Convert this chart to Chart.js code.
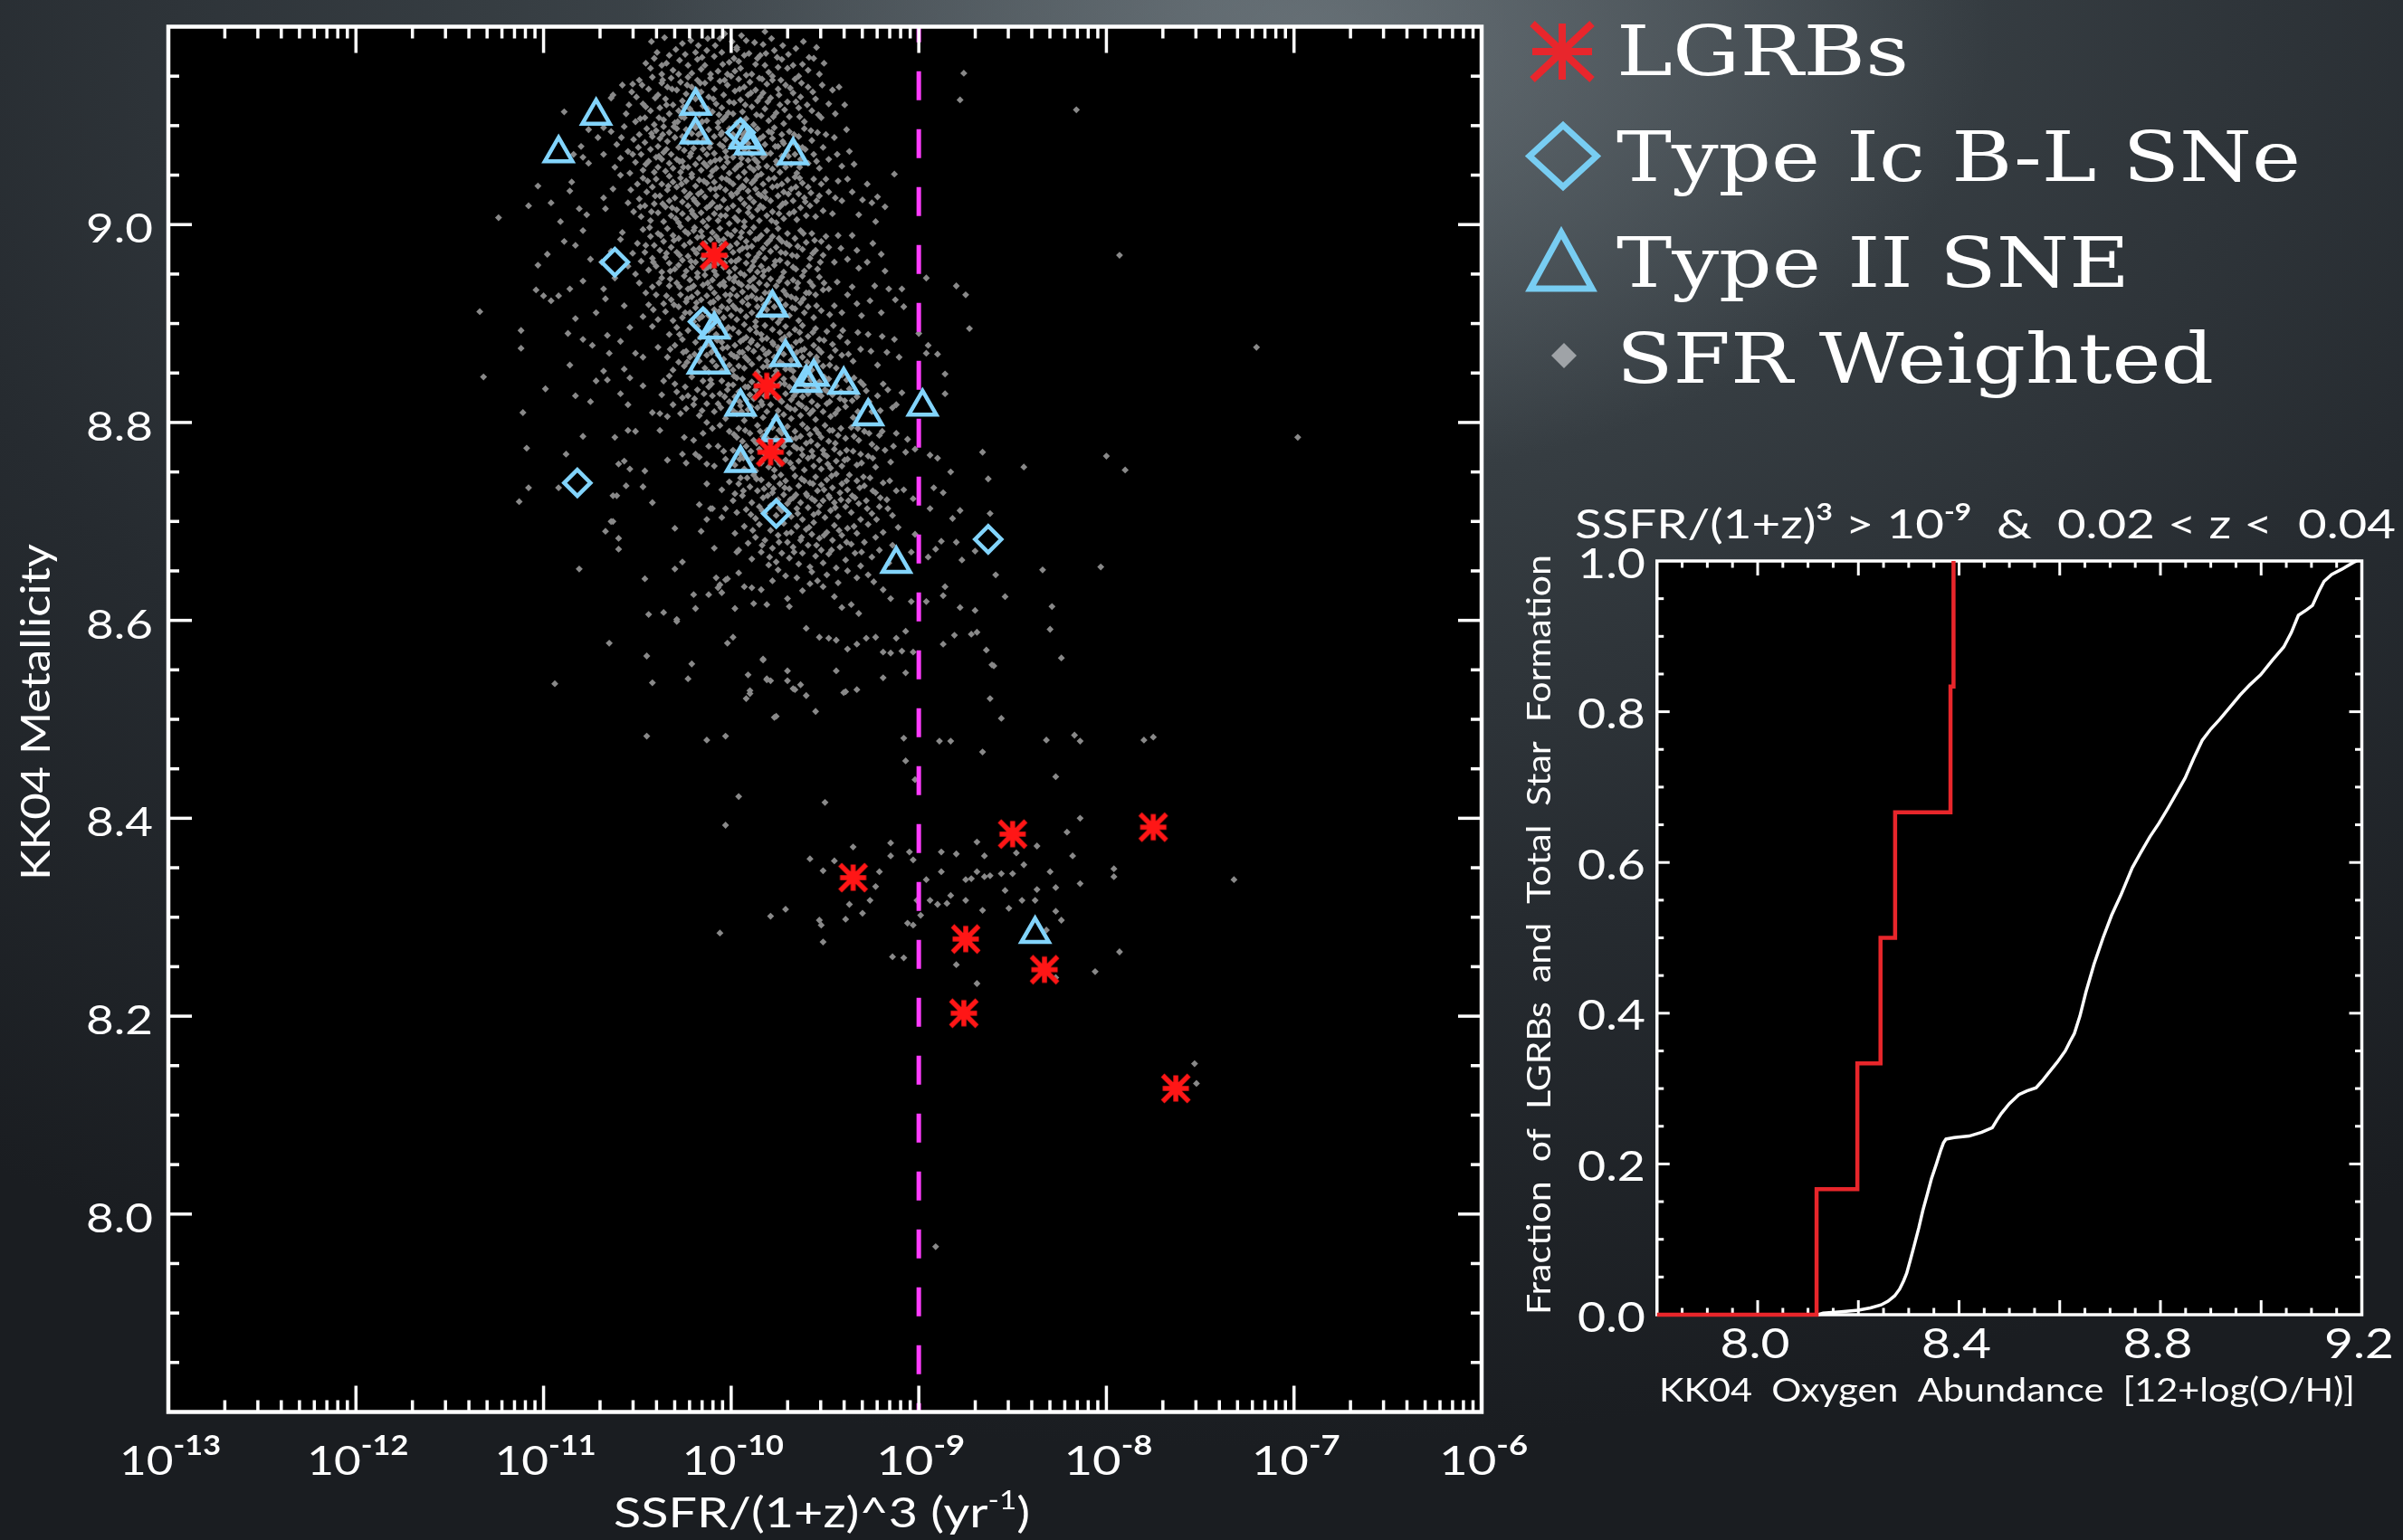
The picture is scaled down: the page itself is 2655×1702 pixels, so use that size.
<!DOCTYPE html>
<html>
<head>
<meta charset="utf-8">
<title>KK04 metallicity versus specific star formation rate</title>
<script src="https://cdn.jsdelivr.net/npm/chart.js@4.4.1/dist/chart.umd.min.js"></script>
<style>
  html, body { margin: 0; padding: 0; }
  body {
    width: 2655px; height: 1702px; overflow: hidden; position: relative;
    background:
      radial-gradient(ellipse 1000px 650px at 1450px 40px, rgba(125,135,141,0.55), rgba(125,135,141,0) 75%),
      radial-gradient(ellipse 2300px 1600px at 1350px 0px, #4c555b 0%, #363d42 35%, #262b30 65%, #1a1d21 100%);
  }
  canvas { position: absolute; }
  #main { left: 0; top: 0; }
  #inset { left: 1650px; top: 520px; }
</style>
</head>
<body>
<canvas id="main" width="2655" height="1702"></canvas>
<canvas id="inset" width="1005" height="1182"></canvas>
<script>
// ---- data: [log10 SSFR/(1+z)^3, KK04 metallicity] ----
const lgrbs = [
  [-10.09,8.969],[-9.81,8.837],[-9.79,8.770],[-9.35,8.340],[-8.50,8.384],
  [-7.75,8.391],[-8.75,8.278],[-8.33,8.247],[-8.76,8.203],[-7.63,8.127]
];
const typeIcBL = [
  [-10.62,8.962],[-10.82,8.739],[-9.76,8.708],[-8.63,8.682],[-10.15,8.902],[-9.95,9.093]
];
const typeII = [
  [-10.72,9.110],[-10.92,9.072],[-10.19,9.120],[-10.19,9.091],[-9.93,9.086],[-9.90,9.080],
  [-9.67,9.070],[-9.78,8.916],[-10.09,8.894],[-10.12,8.862],[-9.71,8.866],[-9.60,8.840],
  [-9.56,8.846],[-9.40,8.838],[-9.27,8.806],[-8.98,8.816],[-9.95,8.816],[-9.76,8.790],
  [-9.95,8.759],[-9.12,8.657],[-8.38,8.283]
];
const sfrWeighted = [
  // 9.15 - 9.20
  [-10.43,9.158],[-10.41,9.168],[-10.37,9.152],[-10.37,9.161],[-10.33,9.171],[-10.31,9.156],[-10.28,9.152],[-10.26,9.183],[-10.23,9.161],[-10.21,9.153],[-10.19,9.174],[-10.18,9.167],[-10.16,9.157],[-10.14,9.161],[-10.13,9.176],[-10.11,9.152],[-10.09,9.170],[-10.07,9.155],[-10.06,9.188],[-10.05,9.174],[-10.02,9.152],[-10.01,9.164],[-9.98,9.155],[-9.97,9.177],[-9.96,9.165],[-9.95,9.158],[-9.93,9.171],[-9.92,9.151],[-9.89,9.152],[-9.87,9.162],[-9.86,9.168],[-9.83,9.182],[-9.82,9.161],[-9.80,9.154],[-9.78,9.150],[-9.77,9.176],[-9.75,9.159],[-9.73,9.167],[-9.70,9.158],[-9.67,9.161],[-9.64,9.150],[-9.62,9.162],[-9.59,9.156],[-9.56,9.168],[-9.53,9.152],[-9.82,9.195],[-9.97,9.179],[-9.92,9.186],
  [-10.455,9.163],[-10.425,9.185],[-10.395,9.174],[-10.355,9.189],[-10.345,9.163],[-10.295,9.177],[-10.275,9.166],[-10.245,9.172],[-10.215,9.186],[-10.175,9.181],[-10.155,9.169],[-10.125,9.188],[-10.085,9.181],[-10.045,9.162],[-10.035,9.193],[-9.995,9.185],[-9.985,9.168],[-9.945,9.191],[-9.905,9.173],[-9.875,9.184],[-9.845,9.171],[-9.815,9.173],[-9.785,9.188],[-9.755,9.169],[-9.725,9.181],[-9.695,9.172],[-9.655,9.178],[-9.615,9.185],[-9.585,9.169],[-9.545,9.179],[-9.505,9.163],
  [-8.76,9.153],[-8.78,9.126],[-8.16,9.116],[-10.89,9.114],
  // 9.10 - 9.15
  [-10.64,9.128],[-10.58,9.141],[-10.56,9.112],[-10.53,9.134],[-10.51,9.104],[-10.63,9.131],[-10.68,9.098],[-10.76,9.096],[-10.84,9.071],[-10.79,9.068],
  [-10.49,9.146],[-10.47,9.122],[-10.46,9.108],[-10.44,9.137],[-10.43,9.115],[-10.42,9.149],[-10.41,9.101],
  [-10.39,9.131],[-10.38,9.118],[-10.37,9.143],[-10.36,9.106],[-10.35,9.127],[-10.34,9.139],[-10.33,9.112],[-10.32,9.148],[-10.31,9.121],[-10.30,9.103],
  [-10.29,9.136],[-10.28,9.115],[-10.27,9.144],[-10.26,9.125],[-10.25,9.108],[-10.24,9.132],[-10.23,9.149],[-10.22,9.117],[-10.21,9.139],[-10.20,9.101],
  [-10.19,9.127],[-10.18,9.146],[-10.17,9.111],[-10.16,9.134],[-10.15,9.120],[-10.14,9.143],[-10.13,9.105],[-10.12,9.129],[-10.11,9.148],[-10.10,9.114],
  [-10.09,9.137],[-10.08,9.122],[-10.07,9.103],[-10.06,9.145],[-10.05,9.118],[-10.04,9.131],[-10.03,9.109],[-10.02,9.141],[-10.01,9.124],[-10.00,9.150],
  [-9.99,9.112],[-9.98,9.135],[-9.97,9.103],[-9.96,9.147],[-9.95,9.126],[-9.94,9.114],[-9.93,9.139],[-9.92,9.107],[-9.91,9.131],[-9.90,9.144],
  [-9.89,9.119],[-9.88,9.101],[-9.87,9.136],[-9.86,9.125],[-9.85,9.148],[-9.84,9.110],[-9.83,9.133],[-9.82,9.117],[-9.81,9.142],[-9.80,9.105],
  [-9.79,9.128],[-9.78,9.146],[-9.76,9.113],[-9.75,9.137],[-9.74,9.121],[-9.72,9.102],[-9.71,9.141],[-9.70,9.124],
  [-9.69,9.109],[-9.67,9.133],[-9.66,9.147],[-9.64,9.118],[-9.63,9.129],[-9.61,9.104],
  [-9.59,9.139],[-9.57,9.115],[-9.55,9.127],[-9.52,9.108],[-9.48,9.122],[-9.46,9.136],
  [-10.545,9.121],[-10.505,9.129],[-10.475,9.141],[-10.455,9.119],[-10.405,9.128],[-10.385,9.108],[-10.345,9.121],[-10.315,9.137],[-10.285,9.104],[-10.255,9.119],[-10.235,9.141],[-10.205,9.113],[-10.185,9.136],[-10.155,9.104],[-10.125,9.117],[-10.095,9.127],[-10.065,9.111],[-10.035,9.146],[-10.015,9.113],[-9.985,9.123],[-9.955,9.137],[-9.925,9.121],[-9.895,9.133],[-9.865,9.111],[-9.835,9.147],[-9.805,9.124],[-9.775,9.109],[-9.745,9.131],[-9.715,9.116],[-9.685,9.138],[-9.655,9.124],[-9.625,9.143],[-9.595,9.121],[-9.565,9.134],[-9.535,9.111],
  [-10.525,9.142],[-10.485,9.107],[-10.365,9.146],[-10.265,9.109],[-10.165,9.143],[-10.045,9.106],[-9.945,9.105],[-9.845,9.129],[-9.735,9.146],[-9.635,9.109],[-9.515,9.141],[-9.445,9.112],[-9.425,9.139],[-9.395,9.121],
  // 9.05 - 9.10
  [-10.80,9.079],[-10.76,9.062],[-10.71,9.088],[-10.68,9.071],
  [-10.64,9.094],[-10.62,9.058],[-10.61,9.081],[-10.59,9.067],[-10.57,9.099],[-10.55,9.074],[-10.54,9.052],[-10.52,9.086],[-10.51,9.063],
  [-10.49,9.091],[-10.48,9.071],[-10.47,9.055],[-10.46,9.083],[-10.45,9.097],[-10.44,9.064],[-10.43,9.076],[-10.42,9.089],[-10.41,9.053],[-10.40,9.068],
  [-10.40,9.095],[-10.39,9.079],[-10.39,9.058],[-10.38,9.087],[-10.37,9.066],[-10.36,9.099],[-10.36,9.073],[-10.35,9.054],[-10.34,9.084],[-10.33,9.062],[-10.33,9.093],[-10.32,9.071],[-10.31,9.057],[-10.30,9.088],
  [-10.29,9.066],[-10.29,9.097],[-10.28,9.078],[-10.27,9.053],[-10.26,9.089],[-10.26,9.064],[-10.25,9.075],[-10.24,9.096],[-10.23,9.058],[-10.23,9.083],[-10.22,9.069],[-10.21,9.092],[-10.21,9.051],[-10.20,9.077],
  [-10.19,9.061],[-10.19,9.098],[-10.18,9.084],[-10.17,9.067],[-10.16,9.055],[-10.16,9.093],[-10.15,9.076],[-10.14,9.087],[-10.13,9.059],[-10.13,9.071],[-10.12,9.096],[-10.11,9.082],[-10.11,9.063],[-10.10,9.054],
  [-10.09,9.089],[-10.09,9.072],[-10.08,9.057],[-10.07,9.098],[-10.06,9.066],[-10.06,9.081],[-10.05,9.093],[-10.04,9.058],[-10.03,9.074],[-10.03,9.086],[-10.02,9.063],[-10.01,9.097],[-10.01,9.052],[-10.00,9.079],
  [-9.99,9.068],[-9.99,9.091],[-9.98,9.056],[-9.97,9.083],[-9.96,9.072],[-9.96,9.099],[-9.95,9.061],[-9.94,9.087],[-9.93,9.053],[-9.93,9.076],[-9.92,9.094],[-9.91,9.065],[-9.91,9.082],[-9.90,9.058],
  [-9.89,9.092],[-9.89,9.071],[-9.88,9.055],[-9.87,9.084],[-9.86,9.097],[-9.86,9.063],[-9.85,9.076],[-9.84,9.051],[-9.83,9.089],[-9.83,9.068],[-9.82,9.081],[-9.81,9.059],[-9.80,9.094],
  [-9.79,9.072],[-9.78,9.056],[-9.78,9.087],[-9.77,9.098],[-9.76,9.064],[-9.75,9.079],[-9.74,9.053],[-9.73,9.091],[-9.73,9.069],[-9.72,9.082],[-9.71,9.058],[-9.70,9.075],
  [-9.69,9.094],[-9.68,9.061],[-9.67,9.083],[-9.66,9.071],[-9.65,9.052],[-9.64,9.089],[-9.63,9.066],[-9.62,9.078],[-9.61,9.097],
  [-9.59,9.062],[-9.57,9.085],[-9.56,9.071],[-9.54,9.093],[-9.53,9.057],[-9.51,9.078],
  [-9.48,9.066],[-9.45,9.088],[-9.41,9.059],[-9.37,9.074],[-9.13,9.051],
  [-10.495,9.078],[-10.455,9.061],[-10.425,9.092],[-10.385,9.069],[-10.345,9.076],[-10.305,9.099],[-10.275,9.064],[-10.245,9.085],[-10.215,9.072],[-10.175,9.091],[-10.145,9.062],[-10.115,9.078],[-10.085,9.065],[-10.055,9.091],[-10.025,9.068],[-9.995,9.081],[-9.965,9.059],[-9.935,9.091],[-9.905,9.073],[-9.875,9.066],[-9.845,9.087],[-9.815,9.071],[-9.785,9.093],[-9.755,9.061],[-9.725,9.084],[-9.695,9.069],[-9.665,9.091],[-9.635,9.058],[-9.605,9.076],[-9.575,9.095],
  [-10.585,9.088],[-10.525,9.071],[-10.365,9.091],[-10.255,9.058],[-10.155,9.083],[-10.045,9.079],[-9.945,9.067],[-9.855,9.058],[-9.765,9.079],[-9.645,9.079],[-9.545,9.064],[-9.495,9.091],[-9.435,9.071],[-9.385,9.096],[-9.345,9.061],
  // 9.00 - 9.05
  [-11.24,9.007],[-11.08,9.019],[-11.03,9.039],[-10.96,9.022],[-10.85,9.043],[-10.86,9.034],[-10.81,9.016],[-10.77,9.010],[-10.68,9.027],[-10.63,9.036],[-10.59,9.050],[-10.67,9.016],[-10.55,9.022],[-10.52,9.013],
  [-10.50,9.041],[-10.49,9.026],[-10.48,9.008],[-10.47,9.047],[-10.46,9.019],[-10.45,9.033],[-10.43,9.004],[-10.42,9.038],[-10.41,9.021],
  [-10.40,9.046],[-10.39,9.012],[-10.38,9.029],[-10.37,9.041],[-10.36,9.003],[-10.35,9.018],[-10.34,9.035],[-10.33,9.049],[-10.33,9.024],[-10.32,9.009],[-10.31,9.043],[-10.30,9.027],
  [-10.29,9.015],[-10.29,9.038],[-10.28,9.002],[-10.27,9.047],[-10.26,9.023],[-10.26,9.011],[-10.25,9.034],[-10.24,9.044],[-10.23,9.019],[-10.23,9.006],[-10.22,9.031],[-10.21,9.048],[-10.21,9.014],[-10.20,9.026],
  [-10.19,9.039],[-10.19,9.008],[-10.18,9.021],[-10.17,9.045],[-10.16,9.012],[-10.16,9.033],[-10.15,9.003],[-10.14,9.028],[-10.13,9.042],[-10.13,9.017],[-10.12,9.006],[-10.11,9.036],[-10.11,9.049],[-10.10,9.022],
  [-10.09,9.011],[-10.09,9.043],[-10.08,9.029],[-10.07,9.004],[-10.06,9.038],[-10.06,9.018],[-10.05,9.047],[-10.04,9.025],[-10.03,9.009],[-10.03,9.035],[-10.02,9.016],[-10.01,9.044],[-10.01,9.001],[-10.00,9.031],
  [-9.99,9.019],[-9.99,9.041],[-9.98,9.007],[-9.97,9.032],[-9.96,9.048],[-9.96,9.014],[-9.95,9.026],[-9.94,9.039],[-9.93,9.003],[-9.93,9.021],[-9.92,9.045],[-9.91,9.012],[-9.91,9.034],[-9.90,9.027],
  [-9.89,9.008],[-9.89,9.042],[-9.88,9.023],[-9.87,9.036],[-9.86,9.015],[-9.86,9.049],[-9.85,9.004],[-9.84,9.029],[-9.83,9.041],[-9.83,9.017],[-9.82,9.033],[-9.81,9.009],[-9.80,9.046],
  [-9.79,9.024],[-9.78,9.013],[-9.78,9.038],[-9.77,9.047],[-9.76,9.002],[-9.75,9.029],[-9.74,9.018],[-9.73,9.041],[-9.72,9.006],[-9.72,9.033],[-9.71,9.022],[-9.70,9.045],
  [-9.69,9.011],[-9.68,9.036],[-9.67,9.024],[-9.66,9.048],[-9.65,9.005],[-9.64,9.031],[-9.63,9.017],[-9.62,9.042],[-9.61,9.027],[-9.60,9.009],
  [-9.59,9.038],[-9.58,9.019],[-9.56,9.046],[-9.55,9.008],[-9.53,9.029],[-9.52,9.041],[-9.51,9.014],
  [-9.48,9.033],[-9.46,9.011],[-9.43,9.044],[-9.41,9.024],
  [-9.38,9.046],[-9.32,9.010],[-9.30,9.025],[-9.25,9.022],[-9.22,9.028],[-9.18,9.018],[-9.23,9.003],
  [-10.485,9.018],[-10.445,9.044],[-10.405,9.029],[-10.365,9.021],[-10.335,9.039],[-10.295,9.006],[-10.265,9.041],[-10.235,9.028],[-10.205,9.011],[-10.175,9.031],[-10.145,9.044],[-10.115,9.019],[-10.085,9.036],[-10.055,9.009],[-10.025,9.046],[-9.995,9.029],[-9.965,9.004],[-9.935,9.038],[-9.905,9.017],[-9.875,9.045],[-9.845,9.019],[-9.815,9.027],[-9.785,9.004],[-9.755,9.039],[-9.725,9.021],[-9.695,9.031],[-9.665,9.013],[-9.635,9.047],[-9.605,9.023],[-9.575,9.032],
  [-10.535,9.035],[-10.425,9.013],[-10.315,9.017],[-10.195,9.024],[-10.075,9.017],[-9.955,9.036],[-9.855,9.031],[-9.745,9.011],[-9.655,9.038],[-9.545,9.024],[-9.495,9.046],[-9.445,9.027],[-9.355,9.033],[-9.275,9.041],
  // 8.95 - 9.00
  [-10.98,8.970],[-11.03,8.959],[-10.91,9.003],[-10.89,8.983],[-10.83,8.979],[-10.79,8.994],[-10.75,8.965],[-10.69,8.962],[-10.59,8.985],[-10.58,8.992],[-10.64,8.973],[-10.55,8.958],
  [-10.50,8.981],[-10.48,8.963],[-10.47,8.995],[-10.46,8.972],[-10.44,8.954],[-10.43,8.988],[-10.42,8.966],[-10.41,8.979],
  [-10.40,8.958],[-10.39,8.991],[-10.38,8.974],[-10.37,8.952],[-10.36,8.983],[-10.35,8.967],[-10.34,8.996],[-10.33,8.961],[-10.32,8.977],[-10.31,8.989],[-10.30,8.955],
  [-10.29,8.972],[-10.28,8.986],[-10.28,8.959],[-10.27,8.998],[-10.26,8.964],[-10.25,8.979],[-10.24,8.953],[-10.23,8.991],[-10.23,8.968],[-10.22,8.982],[-10.21,8.957],[-10.20,8.975],[-10.20,8.994],
  [-10.19,8.962],[-10.18,8.987],[-10.18,8.951],[-10.17,8.976],[-10.16,8.993],[-10.15,8.966],[-10.14,8.981],[-10.14,8.955],[-10.13,8.998],[-10.12,8.971],[-10.11,8.958],[-10.11,8.985],[-10.10,8.964],[-10.10,8.992],
  [-10.09,8.953],[-10.08,8.988],[-10.07,8.974],[-10.07,8.961],[-10.06,8.996],[-10.05,8.979],[-10.04,8.957],[-10.04,8.985],[-10.03,8.968],[-10.02,8.991],[-10.01,8.952],[-10.01,8.977],[-10.00,8.963],[-10.00,8.989],
  [-9.99,8.972],[-9.98,8.956],[-9.98,8.994],[-9.97,8.981],[-9.96,8.965],[-9.95,8.987],[-9.95,8.951],[-9.94,8.976],[-9.93,8.998],[-9.92,8.961],[-9.92,8.983],[-9.91,8.969],[-9.90,8.954],[-9.90,8.992],
  [-9.89,8.978],[-9.88,8.963],[-9.88,8.997],[-9.87,8.985],[-9.86,8.952],[-9.85,8.971],[-9.84,8.989],[-9.84,8.958],[-9.83,8.976],[-9.82,8.966],[-9.81,8.994],[-9.81,8.981],[-9.80,8.955],
  [-9.79,8.973],[-9.78,8.988],[-9.77,8.959],[-9.76,8.977],[-9.75,8.996],[-9.74,8.964],[-9.73,8.983],[-9.72,8.952],[-9.71,8.971],[-9.70,8.991],[-9.70,8.961],
  [-9.69,8.979],[-9.67,8.957],[-9.66,8.986],[-9.65,8.968],[-9.63,8.994],[-9.62,8.975],[-9.61,8.953],[-9.60,8.982],
  [-9.58,8.966],[-9.57,8.991],[-9.55,8.974],[-9.54,8.955],[-9.52,8.983],[-9.51,8.969],
  [-9.48,8.977],[-9.43,8.989],[-9.38,8.965],[-9.33,8.974],[-9.32,8.956],[-9.20,8.970],[-9.18,8.953],[-9.45,8.962],
  [-8.96,8.946],[-7.93,8.969],[-8.80,8.938],[-8.75,8.929],
  [-10.455,8.979],[-10.415,8.962],[-10.375,8.989],[-10.345,8.971],[-10.305,8.984],[-10.275,8.969],[-10.245,8.993],[-10.215,8.963],[-10.185,8.971],[-10.155,8.988],[-10.125,8.957],[-10.065,8.984],[-10.035,8.961],[-10.005,8.978],[-9.975,8.963],[-9.945,8.992],[-9.915,8.977],[-9.885,8.958],[-9.855,8.986],[-9.825,8.953],[-9.795,8.984],[-9.765,8.963],[-9.735,8.972],[-9.705,8.981],[-9.675,8.969],[-9.645,8.978],[-9.615,8.991],[-9.585,8.958],[-9.555,8.984],[-9.525,8.962],
  [-10.525,8.971],[-10.435,8.997],[-10.325,8.953],[-10.195,8.997],[-10.085,8.967],[-9.955,8.974],[-9.865,8.967],[-9.745,8.986],[-9.655,8.955],[-9.565,8.971],[-9.495,8.988],[-9.415,8.976],[-9.355,8.989],[-9.275,8.962],[-9.245,8.981],
  // 8.90 - 8.95
  [-11.04,8.934],[-11.00,8.928],[-10.96,8.923],[-10.92,8.928],[-10.86,8.935],[-10.79,8.943],[-10.68,8.935],[-10.67,8.925],[-10.72,8.911],[-10.62,8.946],[-10.57,8.918],[-10.51,8.950],[-10.49,8.941],[-10.47,8.907],
  [-10.44,8.919],[-10.42,8.937],[-10.40,8.929],[-10.39,8.904],[-10.37,8.946],[-10.36,8.920],[-10.35,8.912],[-10.33,8.938],[-10.32,8.924],[-10.31,8.903],
  [-10.29,8.941],[-10.28,8.917],[-10.27,8.929],[-10.26,8.906],[-10.25,8.948],[-10.24,8.922],[-10.23,8.935],[-10.22,8.911],[-10.22,8.944],[-10.21,8.927],[-10.20,8.902],[-10.20,8.938],
  [-10.19,8.916],[-10.18,8.931],[-10.18,8.947],[-10.17,8.905],[-10.16,8.924],[-10.15,8.939],[-10.14,8.913],[-10.14,8.949],[-10.13,8.928],[-10.12,8.908],[-10.11,8.936],[-10.11,8.921],[-10.10,8.944],
  [-10.09,8.914],[-10.09,8.931],[-10.08,8.949],[-10.07,8.903],[-10.07,8.926],[-10.06,8.939],[-10.05,8.917],[-10.04,8.942],[-10.04,8.906],[-10.03,8.929],[-10.02,8.915],[-10.01,8.946],[-10.01,8.923],[-10.00,8.908],
  [-9.99,8.935],[-9.99,8.918],[-9.98,8.947],[-9.97,8.904],[-9.97,8.928],[-9.96,8.941],[-9.95,8.913],[-9.94,8.932],[-9.94,8.922],[-9.93,8.949],[-9.92,8.907],[-9.91,8.937],[-9.91,8.919],[-9.90,8.943],
  [-9.89,8.911],[-9.89,8.928],[-9.88,8.946],[-9.87,8.902],[-9.87,8.934],[-9.86,8.917],[-9.85,8.941],[-9.84,8.925],[-9.84,8.909],[-9.83,8.948],[-9.82,8.931],[-9.81,8.914],[-9.81,8.939],[-9.80,8.922],
  [-9.79,8.945],[-9.78,8.906],[-9.78,8.929],[-9.77,8.917],[-9.76,8.938],[-9.75,8.901],[-9.74,8.924],[-9.73,8.947],[-9.72,8.912],[-9.72,8.933],[-9.71,8.919],[-9.70,8.941],
  [-9.69,8.908],[-9.68,8.927],[-9.67,8.944],[-9.66,8.915],[-9.65,8.936],[-9.64,8.903],[-9.63,8.921],[-9.62,8.948],[-9.61,8.911],[-9.60,8.931],
  [-9.59,8.917],[-9.58,8.942],[-9.56,8.906],[-9.55,8.929],[-9.53,8.947],[-9.52,8.913],[-9.51,8.934],
  [-9.48,8.935],[-9.45,8.918],[-9.41,8.911],[-9.38,8.929],[-9.33,8.920],[-9.26,8.923],[-9.20,8.911],[-9.16,8.935],[-9.09,8.935],[-9.08,8.917],
  [-10.415,8.914],[-10.385,8.941],[-10.345,8.928],[-10.305,8.919],[-10.275,8.937],[-10.245,8.911],[-10.215,8.936],[-10.185,8.921],[-10.155,8.907],[-10.125,8.941],[-10.095,8.922],[-10.065,8.912],[-10.035,8.938],[-10.005,8.929],[-9.975,8.915],[-9.945,8.939],[-9.915,8.926],[-9.885,8.937],[-9.855,8.908],[-9.825,8.919],[-9.795,8.931],[-9.765,8.926],[-9.735,8.905],[-9.705,8.929],[-9.675,8.916],[-9.645,8.941],[-9.615,8.925],[-9.585,8.931],[-9.545,8.918],[-9.505,8.941],
  [-10.455,8.931],[-10.325,8.945],[-10.235,8.925],[-10.105,8.903],[-9.985,8.943],[-9.865,8.925],[-9.745,8.943],[-9.655,8.925],[-9.565,8.938],[-9.475,8.909],[-9.435,8.942],[-9.355,8.937],[-9.305,8.908],[-9.235,8.938],[-9.125,8.924],
  // 8.85 - 8.90
  [-11.34,8.912],[-11.12,8.893],[-11.12,8.875],[-10.87,8.890],[-10.83,8.905],[-10.79,8.884],[-10.74,8.878],[-10.66,8.888],[-10.65,8.870],[-10.59,8.882],[-10.54,8.896],[-10.51,8.870],[-10.47,8.866],[-10.42,8.897],[-10.39,8.876],[-10.68,8.852],[-10.57,8.854],[-10.86,8.858],[-11.32,8.846],
  [-10.34,8.866],[-10.33,8.889],[-10.31,8.853],[-10.30,8.878],[-10.29,8.896],[-10.28,8.861],[-10.26,8.884],[-10.25,8.857],[-10.24,8.872],[-10.23,8.893],[-10.22,8.866],[-10.21,8.851],
  [-10.19,8.881],[-10.18,8.897],[-10.17,8.862],[-10.16,8.874],[-10.15,8.889],[-10.14,8.855],[-10.13,8.868],[-10.12,8.893],[-10.12,8.851],[-10.11,8.879],[-10.10,8.862],[-10.10,8.896],
  [-10.09,8.874],[-10.08,8.857],[-10.08,8.889],[-10.07,8.868],[-10.06,8.898],[-10.05,8.852],[-10.05,8.881],[-10.04,8.864],[-10.03,8.893],[-10.02,8.876],[-10.01,8.858],[-10.01,8.887],[-10.00,8.869],
  [-9.99,8.895],[-9.99,8.853],[-9.98,8.878],[-9.97,8.866],[-9.96,8.891],[-9.96,8.857],[-9.95,8.882],[-9.94,8.871],[-9.93,8.899],[-9.93,8.855],[-9.92,8.886],[-9.91,8.863],[-9.91,8.875],[-9.90,8.894],
  [-9.89,8.859],[-9.89,8.883],[-9.88,8.872],[-9.87,8.897],[-9.86,8.851],[-9.86,8.878],[-9.85,8.865],[-9.84,8.889],[-9.83,8.856],[-9.83,8.874],[-9.82,8.898],[-9.81,8.862],[-9.81,8.885],[-9.80,8.871],
  [-9.79,8.857],[-9.78,8.881],[-9.78,8.894],[-9.77,8.866],[-9.76,8.852],[-9.75,8.876],[-9.74,8.891],[-9.74,8.861],[-9.73,8.884],[-9.72,8.869],[-9.71,8.897],[-9.71,8.854],[-9.70,8.878],
  [-9.69,8.889],[-9.68,8.863],[-9.68,8.876],[-9.67,8.852],[-9.66,8.894],[-9.65,8.871],[-9.64,8.858],[-9.63,8.883],[-9.62,8.866],[-9.62,8.898],[-9.61,8.874],[-9.60,8.856],
  [-9.59,8.887],[-9.58,8.869],[-9.57,8.853],[-9.56,8.878],[-9.55,8.895],[-9.54,8.862],[-9.53,8.884],[-9.52,8.871],[-9.51,8.857],
  [-9.49,8.892],[-9.47,8.866],[-9.46,8.879],[-9.44,8.855],[-9.42,8.887],[-9.41,8.868],
  [-9.38,8.881],[-9.35,8.862],[-9.31,8.874],[-9.27,8.889],[-9.22,8.858],[-9.17,8.871],[-9.13,8.884],
  [-9.00,8.890],[-8.96,8.870],[-8.95,8.878],[-8.90,8.869],[-8.86,8.849],[-8.73,8.895],[-7.20,8.876],
  [-10.325,8.874],[-10.275,8.889],[-10.235,8.861],[-10.195,8.869],[-10.165,8.886],[-10.135,8.878],[-10.105,8.871],[-10.075,8.883],[-10.045,8.875],[-10.015,8.896],[-9.985,8.867],[-9.955,8.871],[-9.925,8.866],[-9.895,8.881],[-9.865,8.891],[-9.835,8.884],[-9.805,8.857],[-9.775,8.879],[-9.745,8.873],[-9.715,8.886],[-9.685,8.854],[-9.655,8.881],[-9.625,8.873],[-9.595,8.861],[-9.565,8.891],[-9.535,8.874],[-9.505,8.883],[-9.475,8.858],[-9.445,8.873],[-9.405,8.893],
  [-10.255,8.871],[-10.145,8.891],[-10.025,8.852],[-9.935,8.884],[-9.815,8.869],[-9.725,8.859],[-9.635,8.891],[-9.545,8.866],[-9.455,8.898],[-9.375,8.869],[-9.325,8.891],[-9.255,8.872],[-9.195,8.887],[-9.105,8.866],
  // 8.80 - 8.85
  [-10.99,8.834],[-10.83,8.827],[-10.75,8.821],[-10.72,8.842],[-10.66,8.843],[-10.59,8.829],[-10.55,8.818],[-10.54,8.845],[-10.47,8.837],[-10.42,8.810],[-10.38,8.809],[-10.37,8.828],[-10.36,8.842],[-10.34,8.806],[-10.31,8.818],[-10.30,8.839],[-10.27,8.809],[-10.26,8.825],[-10.23,8.827],[-10.20,8.818],[-10.18,8.833],[-10.15,8.842],[-10.13,8.819],[-10.10,8.827],[-10.07,8.819],[-10.05,8.842],[-10.02,8.833],[-9.97,8.845],[-11.11,8.810],
  [-10.33,8.847],[-10.29,8.831],[-10.24,8.814],[-10.21,8.846],[-10.17,8.807],[-10.12,8.836],[-10.09,8.811],[-10.06,8.829],[-10.03,8.804],[-10.01,8.821],[-9.99,8.812],[-10.11,8.843],
  [-9.99,8.838],[-9.98,8.826],[-9.97,8.809],[-9.96,8.831],[-9.95,8.817],[-9.94,8.844],[-9.93,8.802],[-9.92,8.823],[-9.91,8.836],[-9.91,8.813],[-9.90,8.828],
  [-9.89,8.841],[-9.88,8.807],[-9.88,8.824],[-9.87,8.833],[-9.86,8.815],[-9.85,8.846],[-9.84,8.821],[-9.83,8.805],[-9.83,8.837],[-9.82,8.827],[-9.81,8.811],[-9.80,8.843],
  [-9.79,8.818],[-9.78,8.834],[-9.77,8.803],[-9.77,8.847],[-9.76,8.826],[-9.75,8.812],[-9.74,8.839],[-9.73,8.821],[-9.72,8.808],[-9.72,8.844],[-9.71,8.829],[-9.70,8.816],
  [-9.69,8.836],[-9.68,8.804],[-9.68,8.823],[-9.67,8.845],[-9.66,8.813],[-9.65,8.831],[-9.64,8.819],[-9.63,8.842],[-9.63,8.807],[-9.62,8.826],[-9.61,8.838],[-9.60,8.814],
  [-9.59,8.829],[-9.58,8.846],[-9.58,8.809],[-9.57,8.821],[-9.56,8.835],[-9.55,8.803],[-9.54,8.817],[-9.53,8.841],[-9.52,8.827],[-9.51,8.811],[-9.50,8.833],
  [-9.49,8.819],[-9.48,8.844],[-9.47,8.806],[-9.46,8.828],[-9.44,8.837],[-9.43,8.813],[-9.42,8.824],[-9.41,8.848],
  [-9.39,8.816],[-9.37,8.834],[-9.35,8.805],[-9.33,8.826],[-9.31,8.841],
  [-9.28,8.832],[-9.25,8.811],[-9.22,8.827],[-9.19,8.839],[-9.14,8.815],[-9.12,8.818],[-9.09,8.830],[-8.86,8.829],
  [-10.245,8.836],[-10.195,8.824],[-10.155,8.812],[-10.105,8.839],[-10.055,8.815],[-10.015,8.838],[-9.985,8.847],[-9.955,8.821],[-9.925,8.836],[-9.895,8.816],[-9.865,8.827],[-9.835,8.818],[-9.805,8.829],[-9.775,8.838],[-9.745,8.824],[-9.715,8.839],[-9.685,8.814],[-9.655,8.842],[-9.625,8.817],[-9.595,8.836],[-9.565,8.812],[-9.535,8.829],[-9.505,8.846],[-9.475,8.821],[-9.445,8.809],[-9.415,8.831],[-9.385,8.843],[-9.355,8.822],[-9.325,8.811],[-9.295,8.838],
  [-10.145,8.829],[-10.035,8.826],[-9.945,8.811],[-9.855,8.838],[-9.755,8.806],[-9.665,8.827],[-9.575,8.843],[-9.485,8.831],[-9.395,8.822],[-9.345,8.845],[-9.265,8.821],[-9.205,8.812],[-9.165,8.833],
  // 8.75 - 8.80
  [-11.09,8.774],[-10.88,8.768],[-10.79,8.786],[-10.62,8.785],[-10.55,8.792],[-10.51,8.791],[-10.38,8.792],[-10.60,8.758],[-10.57,8.761],[-10.54,8.753],[-10.46,8.751],[-10.34,8.762],[-10.26,8.768],[-10.24,8.759],[-10.25,8.785],[-10.20,8.782],[-10.17,8.765],[-10.13,8.758],[-10.12,8.776],[-10.07,8.776],[-10.04,8.771],[-10.06,8.797],[-10.01,8.791],[-9.97,8.785],[-10.13,8.800],
  [-10.19,8.768],[-10.15,8.789],[-10.09,8.756],[-10.03,8.763],[-10.10,8.794],
  [-9.99,8.772],[-9.98,8.757],[-9.96,8.794],[-9.95,8.768],[-9.94,8.781],[-9.93,8.753],[-9.92,8.776],[-9.90,8.789],
  [-9.89,8.764],[-9.88,8.782],[-9.87,8.751],[-9.86,8.797],[-9.85,8.773],[-9.84,8.759],[-9.83,8.786],[-9.82,8.768],[-9.81,8.792],[-9.80,8.755],
  [-9.79,8.779],[-9.78,8.766],[-9.78,8.795],[-9.77,8.752],[-9.76,8.784],[-9.75,8.771],[-9.74,8.758],[-9.73,8.789],[-9.72,8.776],[-9.71,8.762],[-9.70,8.796],
  [-9.69,8.769],[-9.68,8.783],[-9.67,8.754],[-9.66,8.791],[-9.65,8.774],[-9.64,8.761],[-9.63,8.786],[-9.62,8.767],[-9.62,8.798],[-9.61,8.752],[-9.60,8.779],
  [-9.59,8.764],[-9.58,8.788],[-9.57,8.771],[-9.56,8.756],[-9.55,8.793],[-9.54,8.777],[-9.53,8.762],[-9.52,8.785],[-9.52,8.753],[-9.51,8.772],[-9.50,8.797],
  [-9.49,8.766],[-9.48,8.781],[-9.47,8.754],[-9.46,8.792],[-9.45,8.773],[-9.44,8.761],[-9.43,8.787],[-9.42,8.769],[-9.41,8.756],
  [-9.39,8.784],[-9.38,8.763],[-9.36,8.795],[-9.35,8.771],[-9.33,8.757],[-9.32,8.782],[-9.31,8.768],
  [-9.29,8.791],[-9.27,8.766],[-9.25,8.778],[-9.23,8.755],[-9.21,8.787],
  [-9.18,8.772],[-9.15,8.760],[-9.12,8.789],
  [-9.06,8.783],[-9.07,8.770],[-9.02,8.773],[-8.94,8.767],[-8.90,8.764],[-8.83,8.750],[-8.66,8.770],[-8.00,8.766],[-7.90,8.752],[-8.44,8.755],[-6.98,8.785],
  [-9.985,8.788],[-9.955,8.763],[-9.925,8.792],[-9.895,8.771],[-9.865,8.779],[-9.835,8.762],[-9.805,8.783],[-9.775,8.769],[-9.745,8.792],[-9.715,8.781],[-9.685,8.759],[-9.655,8.784],[-9.625,8.773],[-9.595,8.794],[-9.565,8.766],[-9.535,8.789],[-9.505,8.768],[-9.475,8.792],[-9.445,8.779],[-9.415,8.794],[-9.385,8.772],[-9.345,8.786],[-9.305,8.759],[-9.265,8.789],[-9.225,8.774],
  [-9.935,8.764],[-9.845,8.791],[-9.755,8.762],[-9.665,8.776],[-9.575,8.781],[-9.485,8.758],[-9.395,8.762],[-9.325,8.794],[-9.245,8.764],[-9.195,8.791],[-9.135,8.776],
  // 8.70 - 8.75
  [-11.13,8.720],[-11.08,8.734],[-10.92,8.734],[-10.63,8.726],[-10.61,8.726],[-10.56,8.736],[-10.47,8.735],[-10.42,8.719],[-10.17,8.717],[-10.13,8.738],[-10.11,8.713],[-10.10,8.713],[-10.05,8.704],[-10.03,8.713],[-10.05,8.732],[-10.01,8.740],[-9.98,8.728],[-9.96,8.738],[-10.63,8.700],[-10.13,8.702],
  [-9.99,8.721],[-9.97,8.709],[-9.95,8.744],[-9.94,8.726],[-9.92,8.712],[-9.90,8.735],
  [-9.89,8.719],[-9.88,8.747],[-9.87,8.703],[-9.86,8.731],[-9.85,8.715],[-9.84,8.742],[-9.83,8.724],[-9.82,8.708],[-9.80,8.737],
  [-9.79,8.716],[-9.78,8.729],[-9.77,8.745],[-9.76,8.706],[-9.75,8.722],[-9.74,8.738],[-9.73,8.711],[-9.72,8.727],[-9.71,8.741],[-9.70,8.718],
  [-9.69,8.733],[-9.68,8.705],[-9.67,8.724],[-9.66,8.746],[-9.65,8.713],[-9.64,8.736],[-9.63,8.719],[-9.62,8.702],[-9.61,8.741],[-9.60,8.728],
  [-9.59,8.714],[-9.58,8.739],[-9.57,8.723],[-9.56,8.707],[-9.55,8.745],[-9.54,8.731],[-9.53,8.716],[-9.52,8.737],[-9.51,8.721],[-9.50,8.704],
  [-9.49,8.742],[-9.48,8.726],[-9.47,8.711],[-9.46,8.734],[-9.45,8.719],[-9.44,8.748],[-9.43,8.705],[-9.42,8.729],[-9.41,8.738],
  [-9.39,8.715],[-9.38,8.732],[-9.37,8.747],[-9.36,8.709],[-9.34,8.724],[-9.33,8.741],[-9.32,8.718],[-9.31,8.702],
  [-9.29,8.736],[-9.28,8.721],[-9.26,8.744],[-9.25,8.708],[-9.23,8.729],[-9.21,8.715],
  [-9.19,8.739],[-9.17,8.722],[-9.14,8.706],[-9.12,8.731],
  [-9.08,8.732],[-9.03,8.723],[-8.92,8.734],[-8.94,8.713],[-8.82,8.703],[-8.78,8.711],[-8.63,8.743],[-8.62,8.708],[-8.87,8.729],
  [-9.935,8.731],[-9.895,8.707],[-9.865,8.743],[-9.835,8.711],[-9.805,8.726],[-9.775,8.733],[-9.745,8.714],[-9.715,8.734],[-9.685,8.722],[-9.655,8.727],[-9.625,8.743],[-9.595,8.726],[-9.565,8.738],[-9.535,8.709],[-9.505,8.732],[-9.475,8.724],[-9.445,8.714],[-9.415,8.722],[-9.385,8.741],[-9.355,8.726],[-9.315,8.734],[-9.275,8.713],[-9.245,8.731],[-9.205,8.724],[-9.165,8.713],
  [-9.915,8.744],[-9.825,8.733],[-9.735,8.747],[-9.645,8.708],[-9.555,8.721],[-9.465,8.746],[-9.375,8.721],[-9.295,8.745],[-9.225,8.702],[-9.155,8.741],
  // 8.65 - 8.70
  [-10.67,8.690],[-10.64,8.700],[-10.60,8.683],[-10.60,8.672],[-10.30,8.693],[-10.16,8.690],[-10.09,8.673],[-9.97,8.669],
  [-9.98,8.688],[-9.96,8.671],[-9.93,8.695],[-9.91,8.678],
  [-9.89,8.662],[-9.87,8.684],[-9.85,8.697],[-9.84,8.669],[-9.82,8.681],[-9.80,8.656],
  [-9.79,8.691],[-9.78,8.673],[-9.76,8.659],[-9.75,8.686],[-9.73,8.668],[-9.72,8.698],[-9.70,8.679],
  [-9.69,8.663],[-9.68,8.689],[-9.67,8.674],[-9.65,8.695],[-9.64,8.657],[-9.63,8.681],[-9.62,8.668],[-9.60,8.692],
  [-9.59,8.676],[-9.58,8.654],[-9.57,8.687],[-9.56,8.699],[-9.55,8.665],[-9.53,8.683],[-9.52,8.671],[-9.51,8.658],
  [-9.49,8.689],[-9.48,8.667],[-9.46,8.681],[-9.45,8.696],[-9.44,8.653],[-9.42,8.674],[-9.41,8.686],
  [-9.39,8.661],[-9.38,8.693],[-9.36,8.677],[-9.34,8.668],[-9.33,8.688],[-9.31,8.655],
  [-9.29,8.679],[-9.27,8.697],[-9.25,8.664],[-9.23,8.684],[-9.21,8.671],
  [-9.19,8.689],[-9.16,8.658],[-9.14,8.676],[-9.11,8.694],
  [-8.70,8.670],[-8.80,8.679],[-8.77,8.661],[-8.88,8.680],[-8.95,8.664],[-8.91,8.672],[-9.04,8.669],[-9.02,8.687],
  [-8.34,8.651],[-8.03,8.654],[-8.59,8.646],
  [-9.885,8.691],[-9.835,8.676],[-9.795,8.664],[-9.745,8.679],[-9.705,8.688],[-9.665,8.669],[-9.625,8.684],[-9.585,8.694],[-9.545,8.676],[-9.505,8.686],[-9.465,8.671],[-9.425,8.691],[-9.385,8.679],[-9.345,8.695],[-9.305,8.669],
  // 8.60 - 8.65
  [-10.81,8.652],[-10.46,8.642],[-10.30,8.652],[-10.26,8.659],[-10.20,8.626],[-10.12,8.626],[-10.08,8.643],[-9.93,8.634],[-10.44,8.606],[-10.36,8.608],[-10.29,8.601],[-10.19,8.612],[-9.98,8.612],[-9.88,8.617],[-9.81,8.616],[-9.69,8.614],
  [-10.06,8.636],[-10.02,8.642],[-10.05,8.628],[-10.07,8.633],[-10.03,8.641],
  [-9.89,8.633],[-9.84,8.631],[-9.78,8.640],[-9.65,8.643],[-9.62,8.630],[-9.57,8.649],[-9.54,8.640],[-9.51,8.634],[-9.45,8.624],[-9.41,8.613],[-9.36,8.616],[-9.32,8.607],[-9.27,8.646],[-9.19,8.631],[-9.15,8.622],[-9.04,8.619],[-8.96,8.619],[-8.87,8.625],[-8.86,8.634],[-8.78,8.613],[-8.70,8.610],
  [-8.29,8.614],[-8.54,8.624],
  [-9.96,8.648],[-9.75,8.651],[-9.71,8.645],[-9.58,8.637],[-9.49,8.646],[-9.43,8.638],[-9.38,8.650],[-9.33,8.643],[-9.24,8.639],[-9.70,8.622],
  // 8.55 - 8.60
  [-10.65,8.577],[-10.45,8.564],[-9.99,8.583],[-10.02,8.577],[-10.21,8.556],[-10.29,8.599],
  [-9.83,8.561],[-9.60,8.592],[-9.53,8.583],[-9.48,8.582],[-9.44,8.580],[-9.38,8.571],[-9.33,8.576],[-9.28,8.582],[-9.23,8.583],[-9.19,8.568],[-9.12,8.582],[-9.07,8.589],[-9.03,8.568],[-9.15,8.567],[-9.09,8.569],[-8.81,8.585],[-8.72,8.586],[-8.69,8.588],[-8.87,8.576],[-8.64,8.570],[-8.61,8.555],
  [-8.30,8.591],[-8.24,8.562],[-8.60,8.554],
  // 8.50 - 8.55
  [-10.23,8.541],[-10.42,8.537],[-10.94,8.536],[-9.91,8.545],[-9.83,8.560],[-9.81,8.540],[-9.70,8.539],[-9.67,8.531],[-9.90,8.526],[-9.92,8.521],[-9.77,8.502],
  [-9.90,8.529],[-9.81,8.541],[-9.79,8.539],[-9.70,8.549],[-9.66,8.530],[-9.63,8.535],[-9.60,8.524],[-9.76,8.503],[-9.55,8.508],[-9.44,8.549],[-9.40,8.527],[-9.33,8.530],[-9.19,8.542],[-9.07,8.547],[-8.62,8.521],
  [-8.56,8.501],[-9.39,8.528],
  // below 8.50
  [-10.03,8.483],[-9.08,8.481],[-8.89,8.478],[-8.83,8.478],[-8.32,8.479],[-8.17,8.484],[-8.14,8.478],[-7.80,8.479],[-7.75,8.482],[-8.66,8.467],[-9.07,8.458],[-9.02,8.439],[-8.27,8.442],[-9.96,8.422],[-9.50,8.416],[-10.03,8.393],[-8.14,8.400],[-8.21,8.386],
  [-9.58,8.359],[-9.35,8.371],[-9.15,8.375],[-9.15,8.362],[-9.05,8.366],[-9.03,8.358],[-8.88,8.366],[-8.80,8.364],[-8.69,8.376],[-8.65,8.362],[-8.48,8.365],[-8.37,8.372],[-8.18,8.362],
  [-9.51,8.347],[-9.45,8.357],[-9.21,8.346],[-9.23,8.331],[-8.96,8.338],[-8.88,8.346],[-8.75,8.338],[-8.72,8.339],[-8.69,8.346],[-8.65,8.341],[-8.62,8.342],[-8.56,8.344],[-8.50,8.344],[-8.44,8.353],[-8.30,8.346],[-8.27,8.330],[-8.14,8.334],[-7.96,8.349],[-7.96,8.341],[-7.32,8.338],
  [-9.37,8.313],[-9.30,8.304],[-9.26,8.317],[-9.01,8.317],[-8.94,8.317],[-8.90,8.313],[-8.85,8.314],[-8.83,8.322],[-8.75,8.317],[-8.66,8.307],[-8.54,8.327],[-8.52,8.309],[-8.45,8.317],[-8.38,8.317],[-8.37,8.328],[-8.27,8.306],[-8.24,8.297],
  [-9.79,8.301],[-9.71,8.308],[-9.53,8.297],[-9.52,8.292],[-9.39,8.298],[-8.99,8.302],[-9.06,8.294],[-9.03,8.292],[-9.51,8.275],[-9.14,8.260],[-9.08,8.259],[-8.32,8.287],[-7.93,8.265],
  [-8.80,8.252],[-8.06,8.245],[-8.27,8.239],[-8.69,8.233],[-7.53,8.152],[-7.52,8.132],
  [-10.45,8.483],[-10.13,8.479],[-10.06,8.284],[-8.91,7.967]
];
const ssfrCut = 1e-9;
const ssfrDecades = [-13, -12, -11, -10, -9, -8, -7, -6];
const metalRange = [7.8, 9.2];
const metalTickLabels = [8.0, 8.2, 8.4, 8.6, 8.8, 9.0];

// ---- inset: cumulative fractions against 12+log(O/H) ----
const lgrbCdf = [[7.8,0],[8.117,0.1667],[8.198,0.3333],[8.244,0.5],[8.273,0.6667],[8.383,0.8333],[8.389,1.0]];
const starFormationCdf = [
  [8.12,0.0],[8.13,0.002],[8.166,0.004],[8.20,0.006],[8.224,0.009],[8.245,0.013],[8.259,0.018],[8.272,0.025],
  [8.282,0.034],[8.290,0.045],[8.296,0.055],[8.303,0.072],[8.311,0.092],[8.320,0.115],[8.328,0.138],[8.337,0.160],
  [8.345,0.180],[8.355,0.200],[8.363,0.217],[8.369,0.228],[8.374,0.233],[8.39,0.235],[8.420,0.237],[8.445,0.242],
  [8.466,0.248],[8.475,0.258],[8.484,0.267],[8.50,0.280],[8.519,0.292],[8.535,0.297],[8.553,0.301],[8.565,0.310],
  [8.577,0.320],[8.595,0.335],[8.611,0.350],[8.620,0.362],[8.629,0.373],[8.640,0.396],[8.652,0.428],[8.668,0.465],
  [8.686,0.500],[8.703,0.530],[8.721,0.556],[8.744,0.593],[8.760,0.612],[8.779,0.634],[8.797,0.652],[8.814,0.671],
  [8.832,0.692],[8.849,0.712],[8.866,0.738],[8.883,0.762],[8.900,0.777],[8.918,0.790],[8.938,0.806],[8.958,0.822],
  [8.978,0.836],[8.999,0.849],[9.022,0.868],[9.045,0.886],[9.060,0.905],[9.074,0.928],[9.090,0.935],[9.102,0.941],
  [9.115,0.960],[9.125,0.973],[9.140,0.982],[9.160,0.989],[9.183,0.998],[9.19,1.0]
];
const oxygenTickLabels = [8.0, 8.4, 8.8, 9.2];
const fractionTickLabels = [0.0, 0.2, 0.4, 0.6, 0.8, 1.0];

// ---- styling ----
const SKY = '#82d4fc';
const RED = '#ff1616';
const LABEL_FONT = 'Lato, "Noto Sans", "DejaVu Sans", sans-serif';
const LEGEND_FONT = '"DejaVu Serif", "Liberation Serif", serif';

function toPoints(rows) {
  return rows.map(r => ({ x: Math.pow(10, r[0]), y: r[1] }));
}

function line(ctx, x1, y1, x2, y2) {
  ctx.beginPath(); ctx.moveTo(x1, y1); ctx.lineTo(x2, y2); ctx.stroke();
}

// text made of normal and superscript pieces, optionally squeezed to a width
function drawRun(ctx, parts, x, y, o) {
  const fontOf = p => p[1]
    ? `${o.supWeight || 'normal'} ${o.supSize}px ${o.family}`
    : `${o.weight || 'normal'} ${o.size}px ${o.family}`;
  ctx.save();
  ctx.fillStyle = o.color || '#fff';
  ctx.textAlign = 'left';
  ctx.textBaseline = 'alphabetic';
  let natural = 0;
  const widths = parts.map(p => {
    ctx.font = fontOf(p);
    const w = ctx.measureText(p[0]).width;
    natural += w;
    return w;
  });
  const sx = o.width ? o.width / natural : 1;
  const total = natural * sx;
  ctx.translate(x, y);
  if (o.rotate) ctx.rotate(o.rotate);
  ctx.translate(o.align === 'center' ? -total / 2 : o.align === 'right' ? -total : 0, 0);
  ctx.scale(sx, 1);
  let cx = 0;
  parts.forEach((p, i) => {
    ctx.font = fontOf(p);
    ctx.fillText(p[0], cx, p[1] ? -o.supRise : 0);
    cx += widths[i];
  });
  ctx.restore();
}

function asteriskSprite(w, h, lw, color) {
  const c = document.createElement('canvas');
  c.width = Math.ceil(w + lw * 2);
  c.height = Math.ceil(h + lw * 2);
  const g = c.getContext('2d');
  const cx = c.width / 2, cy = c.height / 2, rx = w / 2, ry = h / 2;
  g.strokeStyle = color;
  g.lineWidth = lw;
  g.beginPath();
  g.moveTo(cx, cy - ry); g.lineTo(cx, cy + ry);
  g.moveTo(cx - rx, cy); g.lineTo(cx + rx, cy);
  g.moveTo(cx - rx, cy - ry); g.lineTo(cx + rx, cy + ry);
  g.moveTo(cx + rx, cy - ry); g.lineTo(cx - rx, cy + ry);
  g.stroke();
  return c;
}

const plotStar = asteriskSprite(29, 29, 5.5, RED);
const legendStar = asteriskSprite(66, 62, 8, '#e8262c');

// ---- main panel: frame, ticks, labels and the legend ----
const mainAxes = {
  id: 'mainAxes',
  beforeDatasetsDraw(chart) {
    const { ctx, chartArea: a } = chart;
    ctx.save();
    ctx.fillStyle = '#000';
    ctx.fillRect(a.left, a.top, a.right - a.left, a.bottom - a.top);
    ctx.restore();
  },
  afterDatasetsDraw(chart) {
    const { ctx, chartArea: a, scales: { x, y } } = chart;
    ctx.save();
    ctx.strokeStyle = '#fff';
    ctx.lineWidth = 3.5;
    for (let e = ssfrDecades[0]; e < ssfrDecades[ssfrDecades.length - 1]; e++) {
      for (let m = 1; m < 10; m++) {
        const px = x.getPixelForValue(m * Math.pow(10, e));
        const len = m === 1 ? 29 : 13;
        line(ctx, px, a.bottom, px, a.bottom - len);
        line(ctx, px, a.top, px, a.top + len);
      }
    }
    for (let k = 1; k < 28; k++) {
      const py = y.getPixelForValue(metalRange[0] + k * 0.05);
      const len = k % 4 === 0 ? 26 : 12;
      line(ctx, a.left, py, a.left + len, py);
      line(ctx, a.right, py, a.right - len, py);
    }
    ctx.lineWidth = 4.5;
    ctx.strokeRect(a.left, a.top, a.right - a.left, a.bottom - a.top);
    ctx.restore();
  },
  afterDraw(chart) {
    const { ctx, scales: { x, y } } = chart;
    metalTickLabels.forEach(v => drawRun(ctx, [[v.toFixed(1)]], 169, y.getPixelForValue(v) + 20,
      { size: 44, family: LABEL_FONT, align: 'right', width: 74 }));
    ssfrDecades.forEach(e => drawRun(ctx, [['10'], [String(e), true]], x.getPixelForValue(Math.pow(10, e)) + 2, 1630,
      { size: 45, supSize: 30, supWeight: 'bold', supRise: 22, family: LABEL_FONT, align: 'center',
        width: e <= -10 ? 112 : 98 }));
    drawRun(ctx, [['SSFR/(1+z)^3 (yr'], ['-1', true], [')']], 908, 1688,
      { size: 47, supSize: 28, supRise: 20, family: LABEL_FONT, align: 'center', width: 460 });
    drawRun(ctx, [['KK04 Metallicity']], 55, 787,
      { size: 44, family: LABEL_FONT, align: 'center', width: 372, rotate: -Math.PI / 2 });

    // legend
    ctx.save();
    ctx.drawImage(legendStar, 1726 - legendStar.width / 2, 57 - legendStar.height / 2);
    ctx.strokeStyle = '#78cdf2';
    ctx.lineWidth = 7;
    ctx.beginPath();
    ctx.moveTo(1727, 172.5 - 34); ctx.lineTo(1727 + 37, 172.5);
    ctx.lineTo(1727, 172.5 + 34); ctx.lineTo(1727 - 37, 172.5); ctx.closePath();
    ctx.stroke();
    ctx.beginPath();
    ctx.moveTo(1725, 257); ctx.lineTo(1725 + 34, 319); ctx.lineTo(1725 - 34, 319); ctx.closePath();
    ctx.stroke();
    ctx.fillStyle = '#9fa3a7';
    ctx.beginPath();
    ctx.moveTo(1728, 379); ctx.lineTo(1742, 393); ctx.lineTo(1728, 407); ctx.lineTo(1714, 393); ctx.closePath();
    ctx.fill();
    ctx.restore();
    const names = chart.data.datasets;
    [[names[0].label, 83, 323], [names[1].label, 200, 756], [names[2].label, 317, 567], [names[4].label, 423, 660]]
      .forEach(([t, by, w]) => drawRun(ctx, [[t]], 1786, by, { size: 76, family: LEGEND_FONT, width: w }));
  }
};

new Chart(document.getElementById('main'), {
  type: 'scatter',
  data: {
    datasets: [
      { label: 'LGRBs', data: toPoints(lgrbs), pointStyle: plotStar, order: 0 },
      { label: 'Type Ic B-L SNe', data: toPoints(typeIcBL), pointStyle: 'rectRot', pointRadius: 14.5,
        pointBorderWidth: 4.5, pointBorderColor: SKY, pointBackgroundColor: 'rgba(0,0,0,0)', order: 1 },
      { label: 'Type II SNE', data: toPoints(typeII), pointStyle: 'triangle',
        pointRadius: c => c.dataIndex === 9 ? 25 : 17.5,
        pointBorderWidth: 4.5, pointBorderColor: SKY, pointBackgroundColor: 'rgba(0,0,0,0)', order: 2 },
      { type: 'line', label: 'cut', data: [{ x: ssfrCut, y: metalRange[1] }, { x: ssfrCut, y: metalRange[0] }],
        borderColor: '#ff3cff', borderWidth: 5, borderDash: [32, 32], borderDashOffset: 14.7,
        pointRadius: 0, order: 3 },
      { label: 'SFR Weighted', data: toPoints(sfrWeighted), pointStyle: 'rectRot', pointRadius: 3.9,
        pointBorderWidth: 0, pointBackgroundColor: '#898989', order: 4 }
    ]
  },
  options: {
    responsive: false,
    animation: false,
    devicePixelRatio: 1,
    events: [],
    layout: { padding: { left: 186, top: 10, right: 1018, bottom: 141.5 } },
    plugins: { legend: { display: false }, tooltip: { enabled: false } },
    scales: {
      x: { type: 'logarithmic', min: Math.pow(10, ssfrDecades[0]), max: Math.pow(10, ssfrDecades[ssfrDecades.length - 1]), display: false },
      y: { type: 'linear', min: metalRange[0], max: metalRange[1], display: false }
    }
  },
  plugins: [mainAxes]
});

// ---- inset panel ----
const insetAxes = {
  id: 'insetAxes',
  beforeDatasetsDraw(chart) {
    const { ctx, chartArea: a, scales: { x, y } } = chart;
    ctx.save();
    ctx.fillStyle = '#000';
    ctx.fillRect(a.left, a.top, a.right - a.left, a.bottom - a.top);
    ctx.strokeStyle = '#fff';
    ctx.lineWidth = 3;
    for (let k = 1; k < 28; k++) {
      const px = x.getPixelForValue(7.8 + k * 0.05);
      const len = k % 4 === 0 ? 16 : 7.5;
      line(ctx, px, a.bottom, px, a.bottom - len);
      line(ctx, px, a.top, px, a.top + len);
    }
    for (let k = 1; k < 20; k++) {
      const py = y.getPixelForValue(k * 0.05);
      const len = k % 4 === 0 ? 14 : 7.5;
      line(ctx, a.left, py, a.left + len, py);
      line(ctx, a.right, py, a.right - len, py);
    }
    ctx.lineWidth = 3.5;
    ctx.strokeRect(a.left, a.top, a.right - a.left, a.bottom - a.top);
    ctx.restore();
  },
  afterDraw(chart) {
    const { ctx, scales: { x, y } } = chart;
    fractionTickLabels.forEach(v => drawRun(ctx, [[v.toFixed(1)]], 168, y.getPixelForValue(v) + 18.5,
      { size: 46, family: LABEL_FONT, align: 'right', width: 75 }));
    oxygenTickLabels.forEach(v => drawRun(ctx, [[v.toFixed(1)]], x.getPixelForValue(v) - 3, 981,
      { size: 46, family: LABEL_FONT, align: 'center', width: 77 }));
    drawRun(ctx, [['SSFR/(1+z)'], ['3', true], [' > 10'], ['-9', true], ['  &  0.02 < z <  0.04']], 543.5, 75,
      { size: 45, supSize: 26, supWeight: 'bold', supRise: 20, family: LABEL_FONT, align: 'center', width: 907 });
    drawRun(ctx, [['Fraction  of  LGRBs  and  Total  Star  Formation']], 63, 513,
      { size: 36, family: LABEL_FONT, align: 'center', width: 840, rotate: -Math.PI / 2 });
    drawRun(ctx, [['KK04  Oxygen  Abundance  [12+log(O/H)]']], 567.5, 1029,
      { size: 36, family: LABEL_FONT, align: 'center', width: 769 });
  }
};

new Chart(document.getElementById('inset'), {
  type: 'line',
  data: {
    datasets: [
      { label: 'LGRBs', data: lgrbCdf, stepped: true, borderColor: '#e8262b', borderWidth: 4.5,
        pointRadius: 0, clip: false, order: 0 },
      { label: 'Total star formation', data: starFormationCdf, borderColor: '#ffffff', borderWidth: 3.5,
        pointRadius: 0, clip: false, order: 1 }
    ]
  },
  options: {
    responsive: false,
    animation: false,
    devicePixelRatio: 1,
    events: [],
    layout: { padding: { left: 180.75, top: 100, right: 45.5, bottom: 249 } },
    plugins: { legend: { display: false }, tooltip: { enabled: false } },
    scales: {
      x: { type: 'linear', min: 7.8, max: 9.2, display: false },
      y: { type: 'linear', min: 0, max: 1, display: false }
    }
  },
  plugins: [insetAxes]
});
</script>
</body>
</html>
